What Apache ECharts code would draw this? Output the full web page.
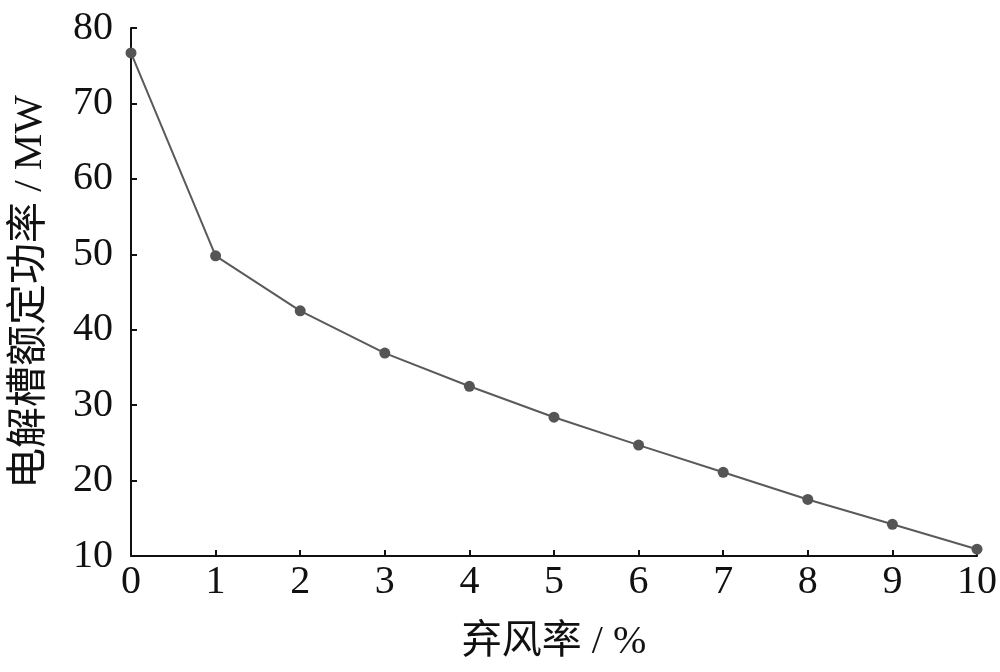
<!DOCTYPE html>
<html>
<head>
<meta charset="utf-8">
<script src="https://cdn.jsdelivr.net/npm/echarts@6/dist/echarts.min.js"></script>
<style>html,body{margin:0;padding:0;background:#fff}#c{width:1000px;height:672px}</style>
</head>
<body>
<div id="c"></div>
<script>
const curtailmentRate = [0, 1, 2, 3, 4, 5, 6, 7, 8, 9, 10];
const ratedPower = [76.7, 49.8, 42.5, 36.9, 32.5, 28.4, 24.7, 21.1, 17.5, 14.2, 10.9];
const xName = '弃风率 / %';
const yName = '电解槽额定功率 / MW';

const font = "'Liberation Serif', 'Times New Roman', 'Noto Sans CJK SC', serif";
const chart = echarts.init(document.getElementById('c'));
chart.setOption({
  backgroundColor: '#fff',
  animation: false,
  grid: { left: 131, right: 23, top: 28, bottom: 116, containLabel: false },
  xAxis: {
    type: 'value', min: 0, max: 10, interval: 1,
    name: xName, nameLocation: 'middle', nameGap: 66,
    nameTextStyle: { fontFamily: font, fontSize: 40, color: '#111' },
    axisLine: { show: true, lineStyle: { color: '#111', width: 2 } },
    axisTick: { show: true, inside: true, length: 6, lineStyle: { color: '#111', width: 2 } },
    axisLabel: { fontFamily: font, fontSize: 40, color: '#111', margin: 6 },
    splitLine: { show: false }
  },
  yAxis: {
    type: 'value', min: 10, max: 80, interval: 10,
    name: yName, nameLocation: 'middle', nameGap: 80, nameRotate: 90,
    nameTextStyle: { fontFamily: font, fontSize: 41, color: '#111' },
    axisLine: { show: true, lineStyle: { color: '#111', width: 2 } },
    axisTick: { show: true, inside: true, length: 6, lineStyle: { color: '#111', width: 2 } },
    axisLabel: { fontFamily: font, fontSize: 40, color: '#111', margin: 18 },
    splitLine: { show: false }
  },
  series: [{
    type: 'line',
    data: curtailmentRate.map((x, i) => [x, ratedPower[i]]),
    symbol: 'circle', symbolSize: 11,
    lineStyle: { color: '#5a5a5a', width: 2 },
    itemStyle: { color: '#555555' }
  }]
});
</script>
</body>
</html>
